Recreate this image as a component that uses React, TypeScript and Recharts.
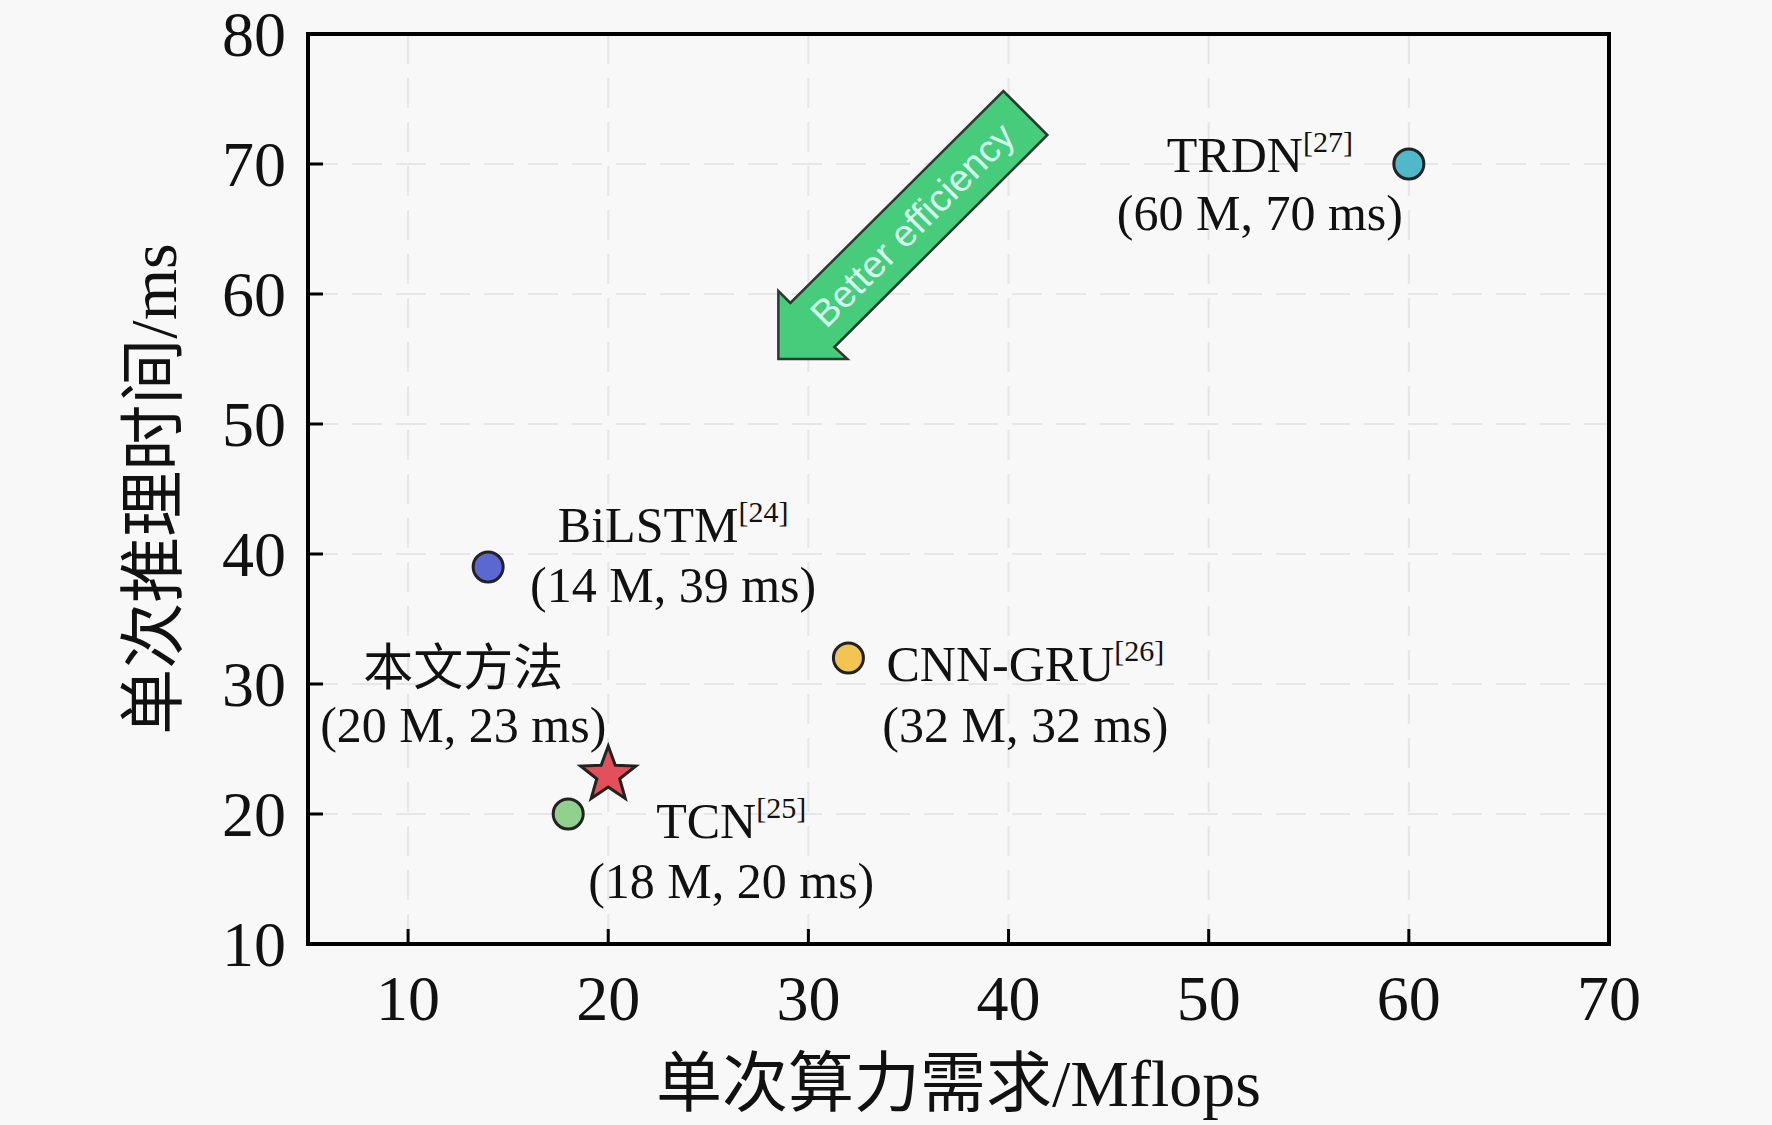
import React from 'react';
import {
  CartesianGrid,
  Label,
  ReferenceArea,
  ReferenceDot,
  Scatter,
  ScatterChart,
  XAxis,
  YAxis,
} from 'recharts';

// 模型、单次算力需求(Mflops)、单次推理时间(ms)
const models = ['本文方法', 'BiLSTM', 'TCN', 'CNN-GRU', 'TRDN'];
const refNums = ['', '24', '25', '26', '27'];
const flops = [20, 14, 18, 32, 60];
const latency = [23, 39, 20, 32, 70];

const xTicks = [10, 20, 30, 40, 50, 60, 70];
const yTicks = [10, 20, 30, 40, 50, 60, 70, 80];

const serif = "'Liberation Serif', 'Times New Roman', 'Noto Sans CJK SC', serif";

const markerColors: Record<string, string> = {
  本文方法: '#e2505c',
  BiLSTM: '#5b68d2',
  TCN: '#92d08e',
  'CNN-GRU': '#f2c451',
  TRDN: '#4fb9ca',
};

// label offset from the marker centre (px): dx, baseline of line 1, baseline of line 2
const labelOffsets: Record<string, [number, number, number]> = {
  本文方法: [-145, -90, -33],
  BiLSTM: [185, -25, 35],
  TCN: [163, 24, 84],
  'CNN-GRU': [177, 23, 84],
  TRDN: [-149, 8, 66],
};

const starPoints = (cx: number, cy: number, R: number, r: number) => {
  const pts: string[] = [];
  for (let i = 0; i < 10; i++) {
    const rad = i % 2 === 0 ? R : r;
    const a = -Math.PI / 2 + (i * Math.PI) / 5;
    pts.push(`${cx + rad * Math.cos(a)},${cy + rad * Math.sin(a)}`);
  }
  return pts.join(' ');
};

const Marker = (props: any) => {
  const { cx, cy, payload } = props;
  const name = payload.name as string;
  const [dx, dy1, dy2] = labelOffsets[name];
  const color = markerColors[name];
  return (
    <g>
      {name === '本文方法' ? (
        <polygon points={starPoints(cx, cy, 29, 12)} fill={color} stroke="#222" strokeWidth={3} strokeLinejoin="miter" />
      ) : (
        <circle cx={cx} cy={cy} r={15} fill={color} stroke="#222" strokeWidth={3} />
      )}
      <text x={cx + dx} y={cy + dy1} textAnchor="middle" fontSize={50} fontFamily={serif} fill="#111">
        {name}
        {payload.ref ? (
          <tspan fontSize={30} dy={-20}>{`[${payload.ref}]`}</tspan>
        ) : null}
      </text>
      <text x={cx + dx} y={cy + dy2} textAnchor="middle" fontSize={50} fontFamily={serif} fill="#111">
        {`(${payload.x} M, ${payload.y} ms)`}
      </text>
    </g>
  );
};

const XTick = (props: any) => {
  const { x, y, payload } = props;
  const v = payload.value;
  return (
    <g>
      {v > 5 && v < 70 && <line x1={x} x2={x} y1={y} y2={y - 15} stroke="#000" strokeWidth={3} />}
      <text x={x} y={y + 76} textAnchor="middle" fontSize={64} fontFamily={serif} fill="#111">
        {v}
      </text>
    </g>
  );
};

const YTick = (props: any) => {
  const { x, y, payload } = props;
  const v = payload.value;
  return (
    <g>
      {v > 10 && v < 80 && <line x1={x} x2={x + 15} y1={y} y2={y} stroke="#000" strokeWidth={3} />}
      <text x={x - 22} y={y + 22} textAnchor="end" fontSize={64} fontFamily={serif} fill="#111">
        {v}
      </text>
    </g>
  );
};

const XTitle = (props: any) => {
  const vb = props.viewBox;
  return (
    <text x={vb.x + vb.width / 2} y={vb.y + 162} textAnchor="middle" fontSize={66} fontFamily={serif} fill="#111">
      单次算力需求/Mflops
    </text>
  );
};

const YTitle = (props: any) => {
  const vb = props.viewBox;
  const x = vb.x + vb.width - 155;
  const y = vb.y + vb.height / 2;
  return (
    <text
      x={x}
      y={y}
      transform={`rotate(-90, ${x}, ${y})`}
      textAnchor="middle"
      dominantBaseline="central"
      fontSize={66}
      fontFamily={serif}
      fill="#111"
    >
      单次推理时间/ms
    </text>
  );
};

// block arrow, drawn relative to its tip
const arrowShape = [
  [0, 0],
  [69, 0],
  [56, -12],
  [269, -224],
  [225, -268],
  [12, -56],
  [0, -68],
];

const Arrow = (props: any) => {
  const { cx, cy } = props;
  const pts = arrowShape.map(([dx, dy]) => `${cx + dx},${cy + dy}`).join(' ');
  const tx = cx + 134;
  const ty = cy - 134;
  return (
    <g>
      <polygon points={pts} fill="#46cc7a" stroke="#2b3a30" strokeWidth={2.5} strokeLinejoin="miter" />
      <text
        x={tx}
        y={ty}
        transform={`rotate(-45, ${tx}, ${ty})`}
        textAnchor="middle"
        dominantBaseline="central"
        fontSize={38}
        fontFamily="'Liberation Sans', Arial, sans-serif"
        fill="#d4fbee"
      >
        Better efficiency
      </text>
    </g>
  );
};

const points = models.map((name, i) => ({ name, ref: refNums[i], x: flops[i], y: latency[i] }));

const App = () => {
  return (
    <div style={{ position: 'absolute', left: 0, top: 0, width: 1772, height: 1125, background: '#f8f8f8' }}>
      <ScatterChart width={1772} height={1125} margin={{ top: 34, right: 163, bottom: 81, left: 188 }}>
        <CartesianGrid stroke="#e6e6e6" strokeWidth={2} strokeDasharray="30 14" />
        <XAxis
          type="number"
          dataKey="x"
          domain={[5, 70]}
          ticks={xTicks}
          interval={0}
          axisLine={false}
          tickLine={false}
          tickSize={0}
          tickMargin={0}
          tick={<XTick />}
          height={100}
          allowDataOverflow
        >
          <Label content={<XTitle />} />
        </XAxis>
        <YAxis
          type="number"
          dataKey="y"
          domain={[10, 80]}
          ticks={yTicks}
          interval={0}
          axisLine={false}
          tickLine={false}
          tickSize={0}
          tickMargin={0}
          tick={<YTick />}
          width={120}
          allowDataOverflow
        >
          <Label content={<YTitle />} />
        </YAxis>
        <ReferenceArea x1={5} x2={70} y1={10} y2={80} fill="none" fillOpacity={0} stroke="#000" strokeWidth={4} strokeOpacity={1} />
        <ReferenceDot x={28.5} y={55} r={0} shape={<Arrow />} />
        {points.map((p) => (
          <Scatter key={p.name} data={[p]} shape={<Marker />} isAnimationActive={false} />
        ))}
      </ScatterChart>
    </div>
  );
};

export default App;
